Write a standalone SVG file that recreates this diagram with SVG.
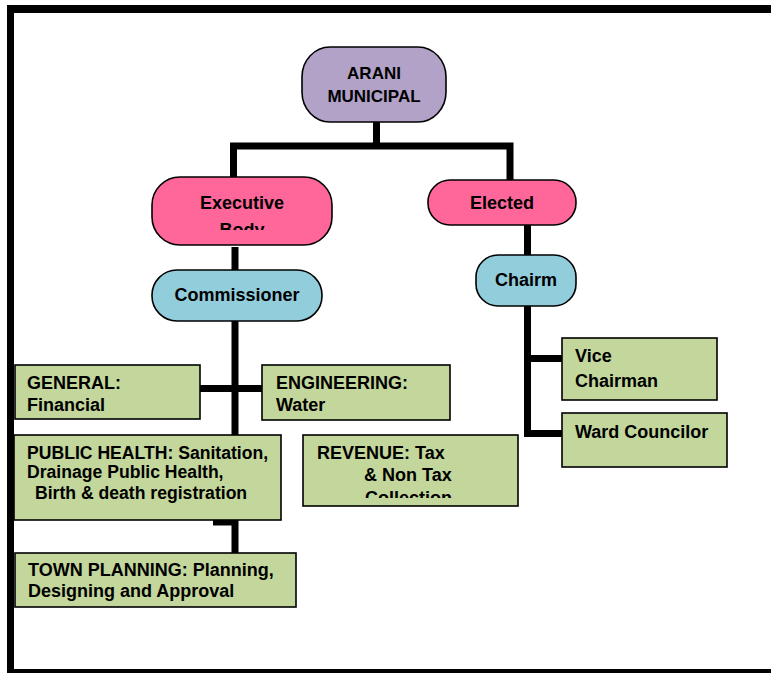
<svg xmlns="http://www.w3.org/2000/svg" width="771" height="673" viewBox="0 0 771 673">
<style>
  text { font-family: "Liberation Sans", Arial, sans-serif; font-weight: bold; fill: #000; }
  .lbl { font-size: 18px; }
  .ph { font-size: 17.6px; }
  .top { font-size: 17px; }
  .c { text-anchor: middle; }
  .box { stroke: #000; stroke-width: 1.6; }
  .green { fill: #c3d69b; }
  .pink { fill: #ff6699; }
  .blue { fill: #92cddc; }
  .purple { fill: #b2a2c7; }
  .conn { stroke: #000; stroke-width: 7; fill: none; stroke-linecap: butt; stroke-linejoin: miter; }
</style>
<defs>
  <clipPath id="clipExec"><rect x="152" y="177" width="180" height="53"/></clipPath>
  <clipPath id="clipRev"><rect x="303" y="435" width="215" height="63"/></clipPath>
</defs>
<rect width="771" height="673" fill="#fff"/>
<g id="frame">
  <rect x="7" y="5" width="764" height="8" fill="#000"/>
  <rect x="7" y="5" width="7" height="668" fill="#000"/>
  <rect x="7" y="669" width="764" height="4" fill="#000"/>
</g>
<g id="connectors">
  <path class="conn" d="M376.5,121 V146"/>
  <path class="conn" d="M233.5,178 V146 H510 V181"/>
  <path class="conn" d="M527.5,225 V256"/>
  <path class="conn" d="M235,247 V271"/>
  <path class="conn" d="M235,318 V436"/>
  <path class="conn" d="M193,388.5 H263"/>
  <path class="conn" d="M213,522 H235 V553"/>
  <path class="conn" d="M527.5,305 V433.5 H562"/>
  <path class="conn" d="M527.5,358.5 H562"/>
</g>
<g id="arani">
  <rect class="box purple" x="302" y="47" width="144" height="75" rx="28" ry="30"/>
  <text class="top c" x="374" y="79">ARANI</text>
  <text class="top c" x="374" y="102">MUNICIPAL</text>
</g>
<g id="executive">
  <rect class="box pink" x="152" y="177" width="180" height="68" rx="28"/>
  <g clip-path="url(#clipExec)">
    <text class="lbl c" x="242" y="209">Executive</text>
    <text class="lbl c" x="242" y="236">Body</text>
  </g>
</g>
<g id="elected">
  <rect class="box pink" x="428" y="180" width="148" height="45" rx="22"/>
  <text class="lbl c" x="502" y="209">Elected</text>
</g>
<g id="commissioner">
  <rect class="box blue" x="152" y="270" width="170" height="51" rx="25"/>
  <text class="lbl c" x="237" y="301">Commissioner</text>
</g>
<g id="chairm">
  <rect class="box blue" x="476" y="255" width="100" height="51" rx="22"/>
  <text class="lbl c" x="526" y="286">Chairm</text>
</g>
<g id="general">
  <rect class="box green" x="15" y="365" width="185" height="54"/>
  <text class="lbl" x="27" y="389">GENERAL:</text>
  <text class="lbl" x="27" y="411">Financial</text>
</g>
<g id="engineering">
  <rect class="box green" x="262" y="365" width="188" height="55"/>
  <text class="lbl" x="276" y="389">ENGINEERING:</text>
  <text class="lbl" x="276" y="411">Water</text>
</g>
<g id="public-health">
  <rect class="box green" x="14" y="435" width="267" height="85"/>
  <text class="ph" x="27" y="459">PUBLIC HEALTH: Sanitation,</text>
  <text class="ph" x="27" y="478">Drainage Public Health,</text>
  <text class="ph" x="35" y="499">Birth &amp; death registration</text>
</g>
<g id="revenue">
  <rect class="box green" x="303" y="435" width="215" height="71"/>
  <g clip-path="url(#clipRev)">
    <text class="lbl" x="317" y="459">REVENUE: Tax</text>
    <text class="lbl" x="364" y="481">&amp; Non Tax</text>
    <text class="lbl" x="365" y="504">Collection</text>
  </g>
</g>
<g id="town-planning">
  <rect class="box green" x="15" y="553" width="281" height="54"/>
  <text class="lbl" x="28" y="576">TOWN PLANNING: Planning,</text>
  <text class="lbl" x="28" y="597">Designing and Approval</text>
</g>
<g id="vice-chairman">
  <rect class="box green" x="562" y="338" width="155" height="62"/>
  <text class="lbl" x="575" y="362">Vice</text>
  <text class="lbl" x="575" y="387">Chairman</text>
</g>
<g id="ward-councilor">
  <rect class="box green" x="562" y="413" width="165" height="54"/>
  <text class="lbl" x="575" y="438">Ward Councilor</text>
</g>
</svg>
